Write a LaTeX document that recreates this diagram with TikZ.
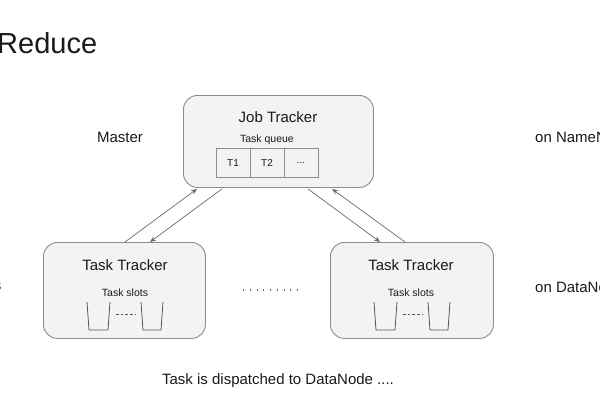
\documentclass[tikz,border=0pt]{standalone}
\usepackage{fontspec}
\setmainfont{Liberation Sans}
\usetikzlibrary{calc,arrows.meta}
\definecolor{boxfill}{HTML}{F3F3F3}
\definecolor{boxline}{HTML}{8C8C8C}
\definecolor{arr}{HTML}{6A6A6A}
\definecolor{cup}{HTML}{555555}
\definecolor{txt}{HTML}{1A1A1A}
\newcommand{\fs}[1]{\fontsize{#1}{#1}\selectfont}
\begin{document}
\begin{tikzpicture}[x=1pt,y=-1pt,
  box/.style={draw=boxline,fill=boxfill,line width=0.9pt,rounded corners=14pt,anchor=north west,inner sep=0pt},
  cell/.style={draw=boxline,fill=boxfill,line width=0.7pt,minimum width=34pt,minimum height=29pt,inner sep=0pt,font=\fs{10},text=txt},
  lbl/.style={inner sep=0pt,text=txt},
  conn/.style={draw=arr,line width=0.7pt,-{Stealth[length=6pt,width=5pt]}},
  cupline/.style={draw=cup,line width=0.8pt}]
\useasboundingbox (0,0) rectangle (600,400);
\clip (0,0) rectangle (600,400);
% title
\node[lbl,anchor=west,font=\fs{29}] (title) at (-3,43) {Reduce};
% side labels
\node[lbl,font=\fs{15}] (master) at (120,137) {Master};
\node[lbl,anchor=west,font=\fs{15}] (onnn) at (535,137) {on NameNode};
\node[lbl,anchor=west,font=\fs{15}] (ondn) at (535,287) {on DataNode};
\node[lbl,anchor=east,font=\fs{15}] (slaves) at (1.5,285) {Slaves};
% job tracker
\node[box,minimum width=190pt,minimum height=92pt] (jt) at (183,95) {};
\node[lbl,font=\fs{15}] (jtt) at (278,117) {Job Tracker};
\node[lbl,font=\fs{10.5}] (tq) at (267,140) {Task queue};
\node[cell] (c1) at (233,163) {T1};
\node[cell] (c2) at (267,163) {T2};
\node[cell] (c3) at (301,163) {...};
% task trackers
\node[box,minimum width=162pt,minimum height=96pt] (lt) at (43,242) {};
\node[lbl,font=\fs{15}] (ltt) at (125,265) {Task Tracker};
\node[lbl,font=\fs{10.5}] (lts) at (125,293) {Task slots};
\node[box,minimum width=163pt,minimum height=96pt] (rt) at (330,242) {};
\node[lbl,font=\fs{15}] (rtt) at (411,265) {Task Tracker};
\node[lbl,font=\fs{10.5}] (rts) at (411,293) {Task slots};
% slots
\foreach \dx/\n in {0/l,287/r}{
  \draw[cupline] (87+\dx,302) -- (89+\dx,330) -- (108+\dx,330) -- (110+\dx,302);
  \draw[cupline] (141+\dx,302) -- (143+\dx,330) -- (161+\dx,330) -- (163+\dx,302);
  \draw[draw=cup,line width=0.6pt,dash pattern=on 2.5pt off 2.2pt] (116+\dx,314) -- (136+\dx,314);
}
% dots between trackers
\draw[draw=arr,line width=1.1pt,dash pattern=on 1.1pt off 5.65pt] (243,290) -- (299,290);
% connectors
\draw[conn] ($(lt.north west)+(82,0)$) -- ($(jt.south west)+(14,1)$);
\draw[conn] ($(jt.south west)+(39,1)$) -- ($(lt.north west)+(107,0)$);
\draw[conn] ($(jt.south west)+(125,1)$) -- ($(rt.north west)+(50,0)$);
\draw[conn] ($(rt.north west)+(75,0)$) -- ($(jt.south west)+(149,1)$);
% caption
\node[lbl,font=\fs{15}] (cap) at (278,381) {Task is dispatched to DataNode ....};
\end{tikzpicture}
\end{document}
